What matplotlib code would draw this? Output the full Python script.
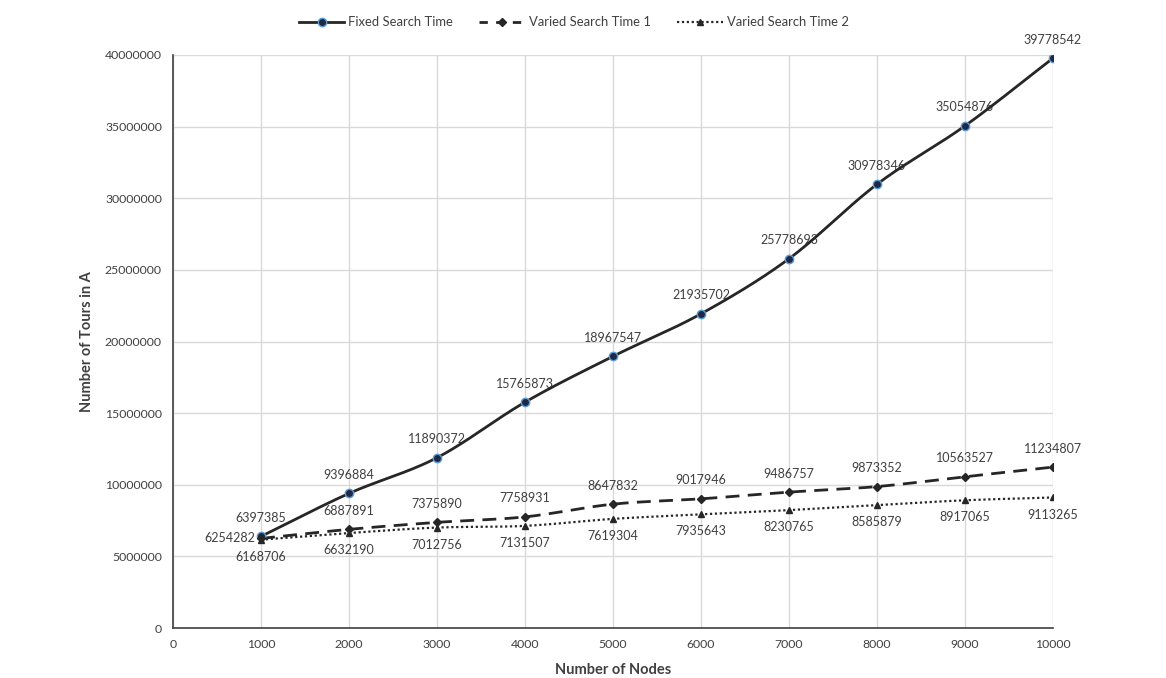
import matplotlib
matplotlib.use("Agg")
import matplotlib.pyplot as plt
from matplotlib.lines import Line2D
import numpy as np

plt.rcParams['font.family'] = ['Lato', 'DejaVu Sans']

nodes = [1000, 2000, 3000, 4000, 5000, 6000, 7000, 8000, 9000, 10000]
fixed_time = [6397385, 9396884, 11890372, 15765873, 18967547, 21935702,
              25778693, 30978346, 35054876, 39778542]
varied_1 = [6254282, 6887891, 7375890, 7758931, 8647832, 9017946,
            9486757, 9873352, 10563527, 11234807]
varied_2 = [6168706, 6632190, 7012756, 7131507, 7619304, 7935643,
            8230765, 8585879, 8917065, 9113265]


def smooth(x, y, n=30):
    # catmull-rom style curve, like the smoothed lines of a spreadsheet chart
    x = np.asarray(x, float)
    y = np.asarray(y, float)
    px = np.concatenate([[2 * x[0] - x[1]], x, [2 * x[-1] - x[-2]]])
    py = np.concatenate([[2 * y[0] - y[1]], y, [2 * y[-1] - y[-2]]])
    xs, ys = [], []
    t = np.linspace(0, 1, n)
    for i in range(1, len(px) - 2):
        for p, out in ((px, xs), (py, ys)):
            p0, p1, p2, p3 = p[i - 1], p[i], p[i + 1], p[i + 2]
            seg = 0.5 * ((2 * p1) + (-p0 + p2) * t +
                         (2 * p0 - 5 * p1 + 4 * p2 - p3) * t ** 2 +
                         (-p0 + 3 * p1 - 3 * p2 + p3) * t ** 3)
            out.extend(seg)
    return xs, ys


fig = plt.figure(figsize=(11.66, 6.78), dpi=100)
ax = fig.add_axes([0.1484, 0.0737, 0.7547, 0.8452])

line_col = '#262626'
txt_col = '#404040'

sx, sy = smooth(nodes, fixed_time)
ax.plot(sx, sy, color=line_col, lw=2, zorder=4)
ax.plot(nodes, fixed_time, 'o', ms=6, mfc='#1c2a48', mec='#5b9bd5', mew=1, zorder=5)

sx, sy = smooth(nodes, varied_1)
ax.plot(sx, sy, color=line_col, lw=2, ls=(0, (5, 3)), zorder=3)
ax.plot(nodes, varied_1, 'D', ms=4, color=line_col, zorder=5)

sx, sy = smooth(nodes, varied_2)
ax.plot(sx, sy, color=line_col, lw=1.6, ls=(0, (1, 1.2)), zorder=3)
ax.plot(nodes, varied_2, '^', ms=5, color=line_col, zorder=5)

for x, y in zip(nodes, fixed_time):
    ax.annotate(str(y), (x, y), xytext=(0, 9), textcoords='offset points',
                ha='center', va='bottom', fontsize=9, color=txt_col)
for i, (x, y) in enumerate(zip(nodes, varied_1)):
    if i == 0:
        ax.annotate(str(y), (x, y), xytext=(-4, 0), textcoords='offset points',
                    ha='right', va='center', fontsize=9, color=txt_col)
    else:
        ax.annotate(str(y), (x, y), xytext=(0, 9), textcoords='offset points',
                    ha='center', va='bottom', fontsize=9, color=txt_col)
for x, y in zip(nodes, varied_2):
    ax.annotate(str(y), (x, y), xytext=(0, -8), textcoords='offset points',
                ha='center', va='top', fontsize=9, color=txt_col)

ax.set_xlim(0, 10000)
ax.set_ylim(0, 40000000)
ax.set_xticks(np.arange(0, 10001, 1000))
ax.set_yticks(np.arange(0, 40000001, 5000000))
ax.xaxis.set_major_formatter(plt.FuncFormatter(lambda v, p: f"{int(v)}"))
ax.yaxis.set_major_formatter(plt.FuncFormatter(lambda v, p: f"{int(v)}"))
ax.tick_params(length=0, labelsize=8.8, colors=txt_col, pad=8)
ax.grid(True, color='#d9d9d9', lw=1)
ax.set_axisbelow(True)
for s in ['top', 'right']:
    ax.spines[s].set_visible(False)
for s in ['left', 'bottom']:
    ax.spines[s].set_color('#404040')
    ax.spines[s].set_linewidth(1.2)

ax.set_xlabel('Number of Nodes', fontsize=10.5, fontweight='bold', color=txt_col, labelpad=9)
ax.set_ylabel('Number of Tours in A', fontsize=10.5, fontweight='bold', color=txt_col, labelpad=8)

handles = [
    Line2D([], [], color=line_col, lw=2, marker='o', ms=6, mfc='#1c2a48', mec='#5b9bd5'),
    Line2D([], [], color=line_col, lw=2, ls=(0, (3, 3)), marker='D', ms=4),
    Line2D([], [], color=line_col, lw=1.6, ls=(0, (1, 1.2)), marker='^', ms=5),
]
fig.legend(handles, ['Fixed Search Time', 'Varied Search Time 1', 'Varied Search Time 2'],
           loc='center', bbox_to_anchor=(0.492, 0.967), ncol=3, frameon=False,
           fontsize=9.4, labelcolor=txt_col, handlelength=3.5, handletextpad=0.3,
           columnspacing=2.0)

fig.savefig('out.png', dpi=100)
